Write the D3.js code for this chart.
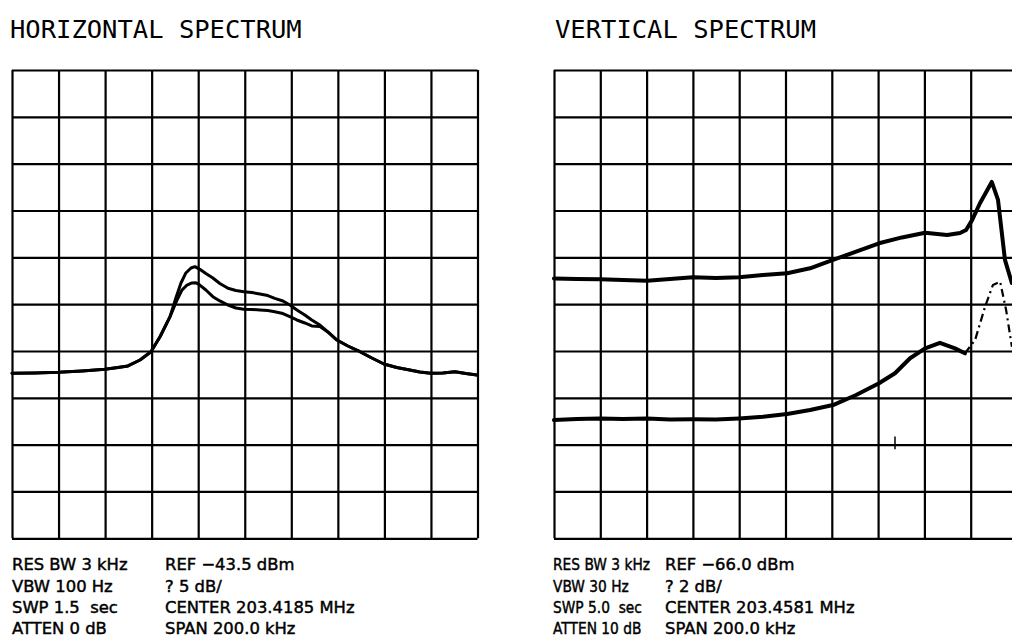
<!DOCTYPE html>
<html><head><meta charset="utf-8">
<script src="https://cdn.jsdelivr.net/npm/d3@7"></script>
<style>body{margin:0;background:#fff}svg{display:block}</style>
</head><body><svg id="c" width="1012" height="644"></svg>
<script>
// ---------- DATA ----------
// Horizontal spectrum (REF -43.5 dBm, 5 dB/div, span 200 kHz) – offset from centre in kHz, level in dBm
const hFreqA  = [-100,-90.1,-80.2,-69.9,-60.1,-54.5,-50.2,-45.0,-40.3,-36.4,-32.1,-29.6,-27.4,-25.3,-23.1,-21.4,-19.3,-16.7,-13.7,-10.7,-7.2,-3.8,-0.4,3.1,6.5,9.9,12.9,16.4,19.4,22.4,25.8,28.8,32.3,35.7,39.6,44.3,49.5,54.6,59.8,65.3,70.9,75.2,79.9,85.1,90.3,95.0,99.7];
const hLevelA = [-75.88,-75.85,-75.78,-75.64,-75.46,-75.26,-75.10,-74.46,-73.58,-71.98,-69.84,-67.84,-66.24,-65.17,-64.64,-64.50,-64.78,-65.23,-65.71,-66.30,-66.81,-67.04,-67.17,-67.26,-67.42,-67.58,-67.88,-68.16,-68.59,-69.12,-69.66,-70.19,-70.73,-71.47,-72.33,-72.97,-73.58,-74.25,-74.89,-75.26,-75.53,-75.74,-75.88,-75.85,-75.71,-75.90,-76.06];
const hFreqB  = [-100,-90.1,-80.2,-69.9,-60.1,-54.5,-50.2,-45.0,-40.3,-36.4,-32.1,-29.1,-27.0,-24.8,-22.7,-21.0,-19.3,-16.7,-13.7,-10.7,-7.2,-3.8,-0.4,3.1,6.5,9.9,12.9,16.4,19.4,22.4,25.8,28.8,32.3,35.7,39.6,44.3,49.5,54.6,59.8,65.3,70.9,75.2,79.9,85.1,90.3,95.0,99.7];
const hLevelB = [-75.88,-75.85,-75.78,-75.64,-75.46,-75.26,-75.10,-74.46,-73.58,-71.98,-69.84,-68.06,-67.00,-66.46,-66.24,-66.21,-66.46,-66.99,-67.70,-68.16,-68.59,-68.91,-69.05,-69.07,-69.12,-69.18,-69.31,-69.50,-69.84,-70.19,-70.51,-70.83,-70.90,-71.47,-72.33,-72.97,-73.58,-74.25,-74.89,-75.26,-75.53,-75.74,-75.88,-75.85,-75.71,-75.90,-76.06];

// Vertical spectrum (REF -66.0 dBm, 2 dB/div, span 200 kHz)
const vFreqA  = [-100,-90.1,-80.1,-70.2,-59.8,-49.9,-40.0,-30.0,-20.1,-9.7,0.7,10.6,20.5,30.5,40.4,50.3,60.3,69.8,75.4,78.0,80.6,84.0,89.1,91.8,94.8,97.8];
const vLevelA = [-74.90,-74.93,-74.94,-74.97,-75.00,-74.93,-74.85,-74.88,-74.85,-74.76,-74.68,-74.47,-74.11,-73.76,-73.40,-73.15,-72.95,-73.05,-72.96,-72.83,-72.41,-71.69,-70.78,-71.55,-74.11,-75.10];
const vFreqB  = [-100,-90.1,-80.1,-70.2,-59.8,-49.9,-40.0,-30.0,-20.1,-9.7,0.7,10.6,20.5,30.5,40.4,47.3,53.8,60.3,66.7,73.2,77.5,81.9,86.2,89.6,92.7,95.3,97.8];
const vLevelB = [-80.95,-80.91,-80.88,-80.91,-80.88,-80.93,-80.92,-80.93,-80.88,-80.81,-80.69,-80.52,-80.31,-79.88,-79.38,-78.95,-78.31,-77.89,-77.65,-77.89,-78.10,-77.53,-76.11,-75.18,-75.04,-76.25,-77.82];
const vDashFrom = 77.5;          // lower vertical trace is drawn dashed beyond this offset
const vMarkerFreq = 47.3, vMarkerTop = -81.65, vMarkerBottom = -82.2;

const xTicks = [-100,-80,-60,-40,-20,0,20,40,60,80,100];
const hYTicks = [-93.5,-88.5,-83.5,-78.5,-73.5,-68.5,-63.5,-58.5,-53.5,-48.5,-43.5];
const vYTicks = [-86,-84,-82,-80,-78,-76,-74,-72,-70,-68,-66];

const titles = ["HORIZONTAL SPECTRUM","VERTICAL SPECTRUM"];
const hInfoLeft  = ["RES BW 3 kHz","VBW 100 Hz","SWP 1.5  sec","ATTEN 0 dB"];
const hInfoRight = ["REF \u221243.5 dBm","? 5 dB/","CENTER 203.4185 MHz","SPAN 200.0 kHz"];
const vInfoLeft  = ["RES BW 3 kHz","VBW 30 Hz","SWP 5.0  sec","ATTEN 10 dB"];
const vInfoRight = ["REF \u221266.0 dBm","? 2 dB/","CENTER 203.4581 MHz","SPAN 200.0 kHz"];

// ---------- DRAW ----------
const svg = d3.select("#c");
svg.append("rect").attr("width",1012).attr("height",644).attr("fill","#fff");

const plotTop = 70, plotBottom = 538.3;
const panels = [
  {x0:12, x1:477.5, yDom:[-93.5,-43.5], yTicks:hYTicks, title:titles[0], titleX:10,
   infoL:hInfoLeft, infoR:hInfoRight, infoLX:12, infoRX:165, squeezeL:1,
   traces:[{f:hFreqA,l:hLevelA,w:3},{f:hFreqB,l:hLevelB,w:3}]},
  {x0:554, x1:1017, yDom:[-86,-66], yTicks:vYTicks, title:titles[1], titleX:555,
   infoL:vInfoLeft, infoR:vInfoRight, infoLX:553, infoRX:665, squeezeL:0.84,
   traces:[{f:vFreqA,l:vLevelA,w:4},{f:vFreqB,l:vLevelB,w:4,dashFrom:vDashFrom}],
   marker:true}
];

const font = "DejaVu Sans";
panels.forEach(p => {
  const x = d3.scaleLinear().domain([-100,100]).range([p.x0,p.x1]);
  const y = d3.scaleLinear().domain(p.yDom).range([plotBottom,plotTop]);
  const g = svg.append("g");

  const gx = g.append("g").attr("transform",`translate(0,${plotBottom})`)
    .call(d3.axisBottom(x).tickValues(xTicks).tickSize(-(plotBottom-plotTop)).tickFormat(""));
  const gy = g.append("g").attr("transform",`translate(${p.x0},0)`)
    .call(d3.axisLeft(y).tickValues(p.yTicks).tickSize(-(p.x1-p.x0)).tickFormat(""));
  [gx,gy].forEach(a => {
    a.select(".domain").remove();
    a.selectAll(".tick line").attr("stroke","#000").attr("stroke-width",2.2);
  });

  const line = d3.line().x(d=>x(d[0])).y(d=>y(d[1])).curve(d3.curveLinear);
  p.traces.forEach(t => {
    const pts = t.f.map((f,i)=>[f,t.l[i]]);
    const solid = t.dashFrom !== undefined ? pts.filter(d=>d[0] <= t.dashFrom) : pts;
    g.append("path").attr("d",line(solid)).attr("fill","none").attr("stroke","#000")
      .attr("stroke-width",t.w).attr("stroke-linejoin","round").attr("stroke-linecap","round");
    if (t.dashFrom !== undefined) {
      const dashed = pts.filter(d=>d[0] >= t.dashFrom);
      g.append("path").attr("d",line(dashed)).attr("fill","none").attr("stroke","#000")
        .attr("stroke-width",2.2).attr("stroke-dasharray","8 4 2 4");
    }
  });

  if (p.marker) {
    g.append("line").attr("x1",x(vMarkerFreq)).attr("x2",x(vMarkerFreq))
      .attr("y1",y(vMarkerTop)).attr("y2",y(vMarkerBottom)).attr("stroke","#000").attr("stroke-width",1.5);
  }

  svg.append("text").attr("x",p.titleX).attr("y",38).text(p.title)
    .attr("font-family","DejaVu Sans Mono").attr("font-size",25.5).attr("fill","#000");

  const baselines = [570,591.5,612.5,633.5];
  const styleText = t => t.attr("font-family",font).attr("font-size",16.4).attr("fill","#000")
    .attr("stroke","#000").attr("stroke-width",0.45).style("white-space","pre");
  p.infoL.forEach((s,i)=> {
    const t = styleText(svg.append("text").attr("x",p.infoLX).attr("y",baselines[i]).text(s));
    if (p.squeezeL !== 1) {
      const w = t.node().getComputedTextLength();
      t.attr("textLength", w*p.squeezeL).attr("lengthAdjust","spacingAndGlyphs");
    }
  });
  p.infoR.forEach((s,i)=> styleText(svg.append("text").attr("x",p.infoRX).attr("y",baselines[i]).text(s)));
});
</script></body></html>
